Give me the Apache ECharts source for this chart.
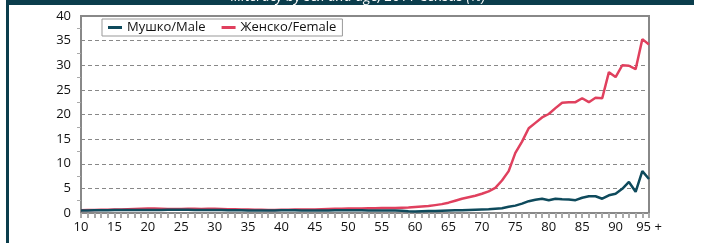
<!DOCTYPE html>
<html>
<head>
<meta charset="utf-8">
<script src="https://cdn.jsdelivr.net/npm/echarts@6/dist/echarts.min.js"></script>
<style>
  html, body { margin: 0; padding: 0; background: #fff; }
  #chart { width: 704px; height: 243px; }
</style>
</head>
<body>
<div id="chart"></div>
<script>
// ages 10 .. 94, then 95 +
const ages = [];
for (let a = 10; a <= 94; a++) ages.push(String(a));
ages.push('95 +');

const male = [
  0.5, 0.5, 0.55, 0.55, 0.55, 0.6, 0.6, 0.6, 0.6, 0.6,
  0.6, 0.6, 0.6, 0.65, 0.65, 0.65, 0.65, 0.6, 0.6, 0.6,
  0.6, 0.6, 0.55, 0.55, 0.55, 0.5, 0.5, 0.5, 0.5, 0.5,
  0.55, 0.55, 0.55, 0.5, 0.5, 0.5, 0.5, 0.5, 0.55, 0.55,
  0.55, 0.55, 0.55, 0.5, 0.5, 0.5, 0.5, 0.5, 0.45, 0.35,
  0.3, 0.35, 0.4, 0.4, 0.45, 0.5, 0.55, 0.55, 0.6, 0.65,
  0.7, 0.75, 0.85, 0.95, 1.25, 1.5, 1.9, 2.4, 2.7, 2.9,
  2.6, 2.9, 2.8, 2.75, 2.6, 3.1, 3.4, 3.4, 2.9, 3.6,
  3.9, 4.9, 6.3, 4.3, 8.5, 6.9
];

const female = [
  0.55, 0.6, 0.6, 0.65, 0.65, 0.7, 0.7, 0.75, 0.8, 0.85,
  0.9, 0.9, 0.85, 0.8, 0.8, 0.8, 0.85, 0.85, 0.8, 0.85,
  0.85, 0.8, 0.75, 0.75, 0.7, 0.7, 0.65, 0.65, 0.6, 0.6,
  0.65, 0.65, 0.7, 0.7, 0.7, 0.7, 0.75, 0.8, 0.85, 0.85,
  0.9, 0.9, 0.9, 0.95, 0.95, 1.0, 1.0, 1.0, 1.05, 1.1,
  1.2, 1.3, 1.4, 1.6, 1.8, 2.1, 2.5, 2.9, 3.2, 3.5,
  3.9, 4.4, 5.1, 6.6, 8.5, 12.2, 14.5, 17.2, 18.3, 19.4,
  20.1, 21.3, 22.4, 22.5, 22.5, 23.3, 22.5, 23.4, 23.3, 28.6,
  27.6, 30.0, 29.9, 29.2, 35.3, 34.2
];

const titleText = 'Illiteracy by sex and age, 2011 Census (%)';
const font = '"Open Sans", "DejaVu Sans", sans-serif';

let myChart = echarts.init(document.getElementById('chart'));

let option = {
  animation: false,
  textStyle: { fontFamily: font },
  // frame of the page: dark band on top, bar on the left
  graphic: [
    { type: 'rect', shape: { x: 6, y: 0, width: 688, height: 5 }, style: { fill: '#0b3d4c' }, z: 10 },
    { type: 'rect', shape: { x: 6, y: 0, width: 3, height: 243 }, style: { fill: '#0b3d4c' }, z: 10 },
    {
      type: 'text', x: 358, y: 4, z: 11,
      style: {
        text: titleText, fill: '#fff', font: 'italic 14px ' + font,
        textAlign: 'center', textVerticalAlign: 'bottom'
      }
    }
  ],
  grid: {
    left: 81, right: 55, top: 16, bottom: 30,
    show: true, borderColor: '#888', borderWidth: 2
  },
  legend: {
    left: 102, top: 19,
    padding: [2, 6, 2, 6],
    itemGap: 16,
    itemWidth: 14, itemHeight: 3,
    icon: 'rect',
    borderColor: '#999', borderWidth: 1,
    textStyle: { fontSize: 13, color: '#111', fontFamily: font },
    data: ['Мушко/Male', 'Женско/Female']
  },
  xAxis: {
    type: 'category',
    data: ages,
    boundaryGap: false,
    axisLine: { lineStyle: { color: '#888', width: 2 } },
    axisTick: { interval: 0, length: 5, lineStyle: { color: '#aaa', width: 2 } },
    axisLabel: { interval: 4, color: '#111', fontSize: 13, margin: 8 },
    splitLine: { show: false }
  },
  yAxis: {
    type: 'value',
    min: 0, max: 40, interval: 5,
    axisLine: { show: true, lineStyle: { color: '#888', width: 2 } },
    axisTick: { show: false },
    minorTick: { show: true, splitNumber: 2, length: 4, lineStyle: { color: '#aaa' } },
    axisLabel: { color: '#111', fontSize: 13, margin: 10 },
    splitLine: { lineStyle: { color: '#888', type: [4, 3], width: 1 } }
  },
  series: [
    {
      name: 'Мушко/Male', type: 'line', data: male,
      symbol: 'none', color: '#0e4a5c',
      lineStyle: { width: 2.5 }, z: 3
    },
    {
      name: 'Женско/Female', type: 'line', data: female,
      symbol: 'none', color: '#e0405e',
      lineStyle: { width: 2.5 }, z: 2
    }
  ]
};

myChart.setOption(option);
</script>
</body>
</html>
